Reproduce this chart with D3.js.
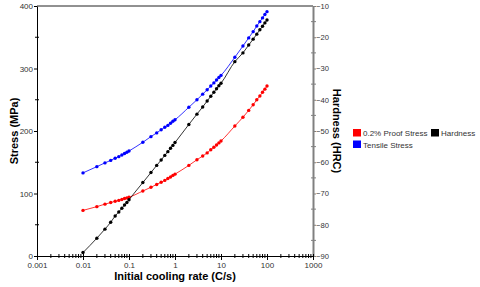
<!DOCTYPE html>
<html>
<head>
<meta charset="utf-8">
<script src="https://cdn.jsdelivr.net/npm/d3@7"></script>
<style>
  body { margin: 0; background: #fff; }
  text { font-family: "Liberation Sans", Arial, sans-serif; }
</style>
</head>
<body>
<div class="canvas"></div>
<script>
// cooling rates (C/s), same for all three series
const rates = [0.01, 0.02, 0.03, 0.04, 0.05, 0.06, 0.07, 0.08, 0.09,
  0.1, 0.2, 0.3, 0.4, 0.5, 0.6, 0.7, 0.8, 0.9,
  1, 2, 3, 4, 5, 6, 7, 8, 9,
  10, 20, 30, 40, 50, 60, 70, 80, 90, 100];

const proofStress = [73, 79, 83, 85.5, 87.5, 89, 90.5, 92, 93,
  94, 104, 110, 114.5, 118, 121, 124, 126.5, 129,
  131, 145, 154, 160, 165, 170, 174, 177.5, 181,
  184, 208, 222, 233, 242, 250, 256, 262, 267, 272];

const tensileStress = [133, 143, 149, 153, 156.5, 159, 161.5, 164, 166,
  168, 182, 191, 197, 202, 206, 209, 212.5, 215.5,
  218, 238, 250, 259, 266, 272, 277, 281.5, 285.5,
  289, 318, 336, 349, 359, 368, 375, 381, 386.5, 391];

const hardness = [-88.9, -84.3, -81.4, -79.2, -77.2, -75.9, -74.7, -73.7, -72.9,
  -72.0, -66.5, -63.3, -61.0, -59.3, -57.8, -56.6, -55.5, -54.6,
  -53.7, -47.9, -44.6, -42.3, -40.4, -38.9, -37.6, -36.5, -35.5,
  -34.7, -27.8, -25.0, -22.5, -20.6, -19.0, -17.6, -16.5, -15.4, -14.5];

const stressTicks = [0, 100, 200, 300, 400];
const hardTicks = [-10, -20, -30, -40, -50, -60, -70, -80, -90];
const rateTicks = [0.001, 0.01, 0.1, 1, 10, 100, 1000];

const legendItems = [
  {name: "0.2% Proof Stress", color: "#ff0000", col: 0, row: 0},
  {name: "Hardness", color: "#000000", col: 1, row: 0},
  {name: "Tensile Stress", color: "#0000ff", col: 0, row: 1}
];

const dims = {width: 276, height: 250};
const margin = {left: 37, top: 6};

const svg = d3.select(".canvas")
  .append("svg")
  .attr("width", 480)
  .attr("height", 287);

const graph = svg.append("g")
  .attr("transform", `translate(${margin.left}, ${margin.top})`);

const x = d3.scaleLog().domain([0.001, 1000]).range([0, dims.width]);
const yL = d3.scaleLinear().domain([0, 400]).range([dims.height, 0]);
const yR = d3.scaleLinear().domain([-90, -10]).range([dims.height, 0]);

// top border
graph.append("line")
  .attr("x1", 0).attr("x2", dims.width)
  .attr("y1", 0).attr("y2", 0)
  .attr("stroke", "#222").attr("stroke-width", 1);

// left axis
const leftAxis = graph.append("g")
  .call(d3.axisLeft(yL).tickValues(stressTicks).tickSize(3).tickPadding(1).tickSizeOuter(0));
leftAxis.select(".domain").attr("stroke", "#000");
const leftMinor = d3.range(50, 400, 100);
graph.append("g").selectAll("line")
  .data(leftMinor)
  .enter().append("line")
  .attr("x1", -2).attr("x2", 2)
  .attr("y1", d => yL(d)).attr("y2", d => yL(d))
  .attr("stroke", "#000");

// right axis
const rightAxis = graph.append("g")
  .attr("transform", `translate(${dims.width}, 0)`)
  .call(d3.axisRight(yR).tickValues(hardTicks).tickSize(3).tickPadding(0).tickSizeOuter(0));
rightAxis.select(".domain").attr("stroke", "#808080").attr("stroke-width", 2);
rightAxis.selectAll(".tick line").attr("stroke", "#808080");
const rightMinor = d3.range(-85, -10, 10);
graph.append("g").selectAll("line")
  .data(rightMinor)
  .enter().append("line")
  .attr("x1", dims.width - 2).attr("x2", dims.width + 3)
  .attr("y1", d => yR(d)).attr("y2", d => yR(d))
  .attr("stroke", "#808080");

// bottom axis
const bottomAxis = graph.append("g")
  .attr("transform", `translate(0, ${dims.height})`)
  .call(d3.axisBottom(x).tickValues(rateTicks).tickFormat(d => String(d)).tickSize(4).tickPadding(2).tickSizeOuter(0));
bottomAxis.select(".domain").attr("stroke", "#000");
bottomAxis.selectAll(".tick line").attr("y1", -2);
const xMinor = [];
rateTicks.slice(0, -1).forEach(d => {
  for (let k = 2; k < 10; k++) xMinor.push(d * k);
});
graph.append("g").selectAll("line")
  .data(xMinor)
  .enter().append("line")
  .attr("x1", d => x(d)).attr("x2", d => x(d))
  .attr("y1", dims.height - 2).attr("y2", dims.height + 2)
  .attr("stroke", "#000");

svg.selectAll(".tick text")
  .attr("fill", "#333")
  .style("font-size", "8px")
  .style("font-family", "'Liberation Sans', Arial, sans-serif");
rightAxis.selectAll(".tick text").style("font-size", "7.6px");

// series
const series = [
  {values: proofStress, y: yL, color: "#ff0000"},
  {values: tensileStress, y: yL, color: "#0000ff"},
  {values: hardness, y: yR, color: "#000000"}
];

series.forEach(s => {
  const pts = rates.map((r, i) => [r, s.values[i]]);
  const line = d3.line()
    .x(d => x(d[0]))
    .y(d => s.y(d[1]))
    .curve(d3.curveMonotoneX);
  graph.append("path")
    .attr("d", line(pts))
    .attr("fill", "none")
    .attr("stroke", s.color)
    .attr("stroke-width", 0.8);
  graph.append("g").selectAll("circle")
    .data(pts)
    .enter().append("circle")
    .attr("cx", d => x(d[0]))
    .attr("cy", d => s.y(d[1]))
    .attr("r", 1.7)
    .attr("fill", s.color);
});

// axis titles
svg.append("text")
  .attr("x", margin.left + dims.width / 2)
  .attr("y", 280)
  .attr("text-anchor", "middle")
  .style("font-size", "11px")
  .style("font-weight", "bold")
  .text("Initial cooling rate (C/s)");

svg.append("text")
  .attr("transform", `translate(18, ${margin.top + dims.height / 2}) rotate(-90)`)
  .attr("text-anchor", "middle")
  .style("font-size", "11px")
  .style("font-weight", "bold")
  .text("Stress (MPa)");

svg.append("text")
  .attr("transform", `translate(333, ${margin.top + dims.height / 2}) rotate(90)`)
  .attr("text-anchor", "middle")
  .style("font-size", "11px")
  .style("font-weight", "bold")
  .text("Hardness (HRC)");

// legend
const legendGroup = svg.append("g")
  .attr("transform", "translate(353, 129)");
const entries = legendGroup.selectAll("g")
  .data(legendItems)
  .enter().append("g")
  .attr("transform", d => `translate(${d.col * 78}, ${d.row * 11.5})`);
entries.append("rect")
  .attr("width", 8).attr("height", 7.5)
  .attr("fill", d => d.color);
entries.append("text")
  .attr("x", 10).attr("y", 7)
  .attr("fill", "#333")
  .style("font-size", "8px")
  .text(d => d.name);
</script>
</body>
</html>
